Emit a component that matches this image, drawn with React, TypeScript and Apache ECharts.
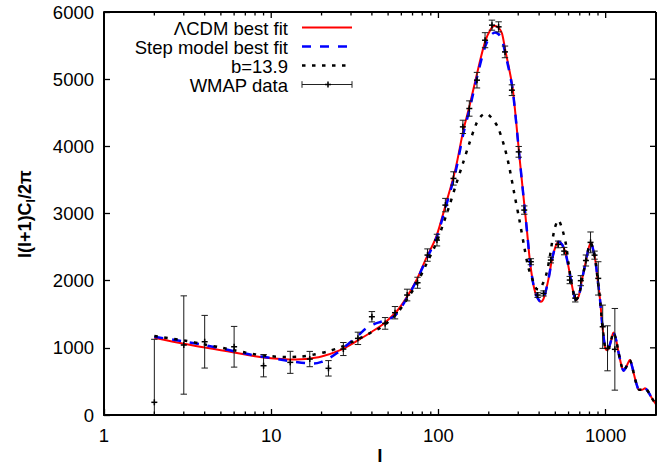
import React, { useEffect, useRef } from "react";
import * as echarts from "echarts";

// ---- axis settings ----
const X_MIN = 1;
const X_MAX = 2000;
const Y_MIN = 0;
const Y_MAX = 6000;
const Y_STEP = 1000;
const xTickLabels = [1, 10, 100, 1000];
const xMajorTop = [10, 100, 1000];
const yMajorRight = [1000, 2000, 3000, 4000, 5000];
const minorTicks = [2, 3, 4, 5, 6, 7, 8, 9, 20, 30, 40, 50, 60, 70, 80, 90, 200, 300, 400, 500, 600, 700, 800, 900];

// ---- ΛCDM best fit ----
const lcdmL = [2, 3, 4, 5, 6, 7, 8, 10, 12, 14, 16, 20, 25, 30, 35, 40, 47, 56, 64, 74, 84, 97, 111, 126, 141, 153, 172, 190, 205, 218, 230, 240, 251, 265, 278, 292, 305, 322, 340, 354, 374, 392, 410, 425, 440, 458, 477, 500, 523, 548, 573, 598, 620, 642, 664, 692, 721, 763, 790, 815, 850, 873, 894, 915, 930, 957, 991, 1014, 1040, 1073, 1113, 1155, 1197, 1248, 1280, 1330, 1395, 1440, 1480, 1530, 1585, 1650, 1721, 1770, 1820, 1880, 1950, 2000];
const lcdmV = [1150, 1060, 1005, 965, 930, 900, 875, 845, 830, 826, 832, 870, 950, 1050, 1150, 1240, 1360, 1537, 1736, 2009, 2320, 2653, 3150, 3646, 4241, 4588, 5134, 5555, 5740, 5795, 5760, 5680, 5432, 5150, 4861, 4350, 3850, 3270, 2690, 2250, 1880, 1740, 1686, 1730, 1860, 2060, 2307, 2500, 2579, 2540, 2430, 2220, 2009, 1820, 1711, 1780, 2009, 2300, 2480, 2560, 2420, 2257, 2034, 1830, 1662, 1314, 1016, 967, 990, 1091, 1230, 1116, 918, 719, 660, 720, 818, 720, 595, 460, 375, 375, 397, 370, 323, 260, 198, 160];

// ---- Step model best fit ----
const stepL = [2, 3, 4, 5, 6, 7, 8, 10, 12, 14, 16, 18, 20, 22, 25, 28, 31, 34, 37, 41, 45, 50, 56, 64, 74, 84, 97, 111, 126, 141, 153, 172, 190, 205, 218, 230, 240, 251, 265, 278, 292, 305, 322, 340, 354, 374, 392, 410, 425, 440, 458, 477, 500, 523, 548, 573, 598, 620, 642, 664, 692, 721, 763, 790, 815, 850, 873, 894, 915, 930, 957, 991, 1014, 1040, 1073, 1113, 1155, 1197, 1248, 1280, 1330, 1395, 1440, 1480, 1530, 1585, 1650, 1721, 1770, 1820, 1880, 1950, 2000];
const stepV = [1165, 1095, 1040, 990, 950, 915, 885, 848, 815, 790, 772, 765, 790, 840, 930, 1030, 1120, 1210, 1290, 1350, 1385, 1420, 1500, 1720, 2000, 2300, 2630, 3110, 3600, 4190, 4540, 5080, 5480, 5650, 5695, 5665, 5590, 5380, 5120, 4840, 4340, 3850, 3270, 2690, 2250, 1880, 1740, 1686, 1730, 1860, 2060, 2307, 2500, 2579, 2540, 2430, 2220, 2009, 1820, 1711, 1780, 2009, 2300, 2480, 2560, 2420, 2257, 2034, 1830, 1662, 1314, 1016, 967, 990, 1091, 1230, 1116, 918, 719, 660, 720, 818, 720, 595, 460, 375, 375, 397, 370, 323, 260, 198, 160];

// ---- b = 13.9 ----
const b139L = [2, 3, 4, 5, 6, 7, 8, 10, 12, 15, 18, 22, 26, 30, 35, 39, 45, 56, 64, 74, 84, 97, 114, 128, 140, 153, 168, 180, 192, 205, 226, 248, 265, 284, 305, 326, 344, 366, 385, 400, 420, 440, 460, 493, 521, 552, 580, 600, 620, 642, 664, 692, 721, 763, 790, 815, 850, 873, 894, 915, 930, 957, 991, 1014, 1040, 1073, 1113, 1155, 1197, 1248, 1280, 1330, 1395, 1440, 1480, 1530, 1585, 1650, 1721, 1770, 1820, 1880, 1950, 2000];
const b139V = [1175, 1110, 1050, 1005, 965, 930, 905, 875, 862, 870, 900, 950, 1010, 1080, 1160, 1220, 1300, 1500, 1700, 1950, 2230, 2560, 3051, 3448, 3745, 4043, 4330, 4450, 4489, 4440, 4290, 3993, 3695, 3299, 2902, 2504, 2207, 2009, 1880, 1870, 1950, 2080, 2307, 2753, 2902, 2753, 2530, 2250, 2009, 1820, 1711, 1780, 2009, 2300, 2480, 2560, 2420, 2257, 2034, 1830, 1662, 1314, 1016, 967, 990, 1091, 1230, 1116, 918, 719, 660, 720, 818, 720, 595, 460, 375, 375, 397, 370, 323, 260, 198, 160];

// ---- WMAP data ----
const wmapL = [2, 3, 4, 6, 9, 13, 17, 22, 27, 33, 40, 48, 55, 65, 75, 86, 98, 110, 123, 140, 153, 170, 190, 209, 229, 250, 275, 302, 326, 357, 392, 425, 470, 520, 565, 610, 658, 710, 762, 812, 858, 903, 960, 1026, 1135];
const wmapV = [189, 1042, 1091, 1016, 734, 784, 833, 695, 982, 1141, 1463, 1364, 1523, 1786, 1969, 2381, 2604, 3125, 3522, 4290, 4563, 4985, 5580, 5804, 5779, 5406, 4836, 3918, 3051, 2282, 1786, 1810, 2307, 2540, 2440, 2009, 1740, 2000, 2300, 2570, 2380, 2034, 1314, 993, 978];
const wmapErr = [938, 732, 392, 303, 166, 164, 114, 115, 97, 92, 77, 87, 92, 87, 82, 92, 87, 100, 99, 99, 114, 116, 112, 75, 75, 87, 80, 80, 62, 45, 35, 38, 43, 50, 55, 54, 57, 75, 82, 155, 60, 248, 322, 335, 608];

const legendNames = ["ΛCDM best fit", "Step model best fit", "b=13.9", "WMAP data"];

const FONT = '"Liberation Sans", Arial, Helvetica, sans-serif';
const FS = 18.5;

const GRID_LEFT = 104;
const GRID_TOP = 12;
const GRID_RIGHT = 9;
const GRID_BOTTOM = 53;

export default function App() {
  const ref = useRef<HTMLDivElement>(null);

  useEffect(() => {
    const chart = echarts.init(ref.current as HTMLDivElement, null, { renderer: "svg" });
    const pairs = (L: number[], V: number[]) => L.map((l, i) => [l, V[i]]);

    const labelBase = { color: "#000", fontSize: FS, fontFamily: FONT };
    const tickStyle = { stroke: "#000", lineWidth: 1.3 };
    const plotW = 665 - GRID_LEFT - GRID_RIGHT;
    const plotH = 468 - GRID_TOP - GRID_BOTTOM;

    const legX = 288;
    const legRows = [28, 47, 66, 85];
    const sx1 = 302;
    const sx2 = 352;

    const frameStyle = { stroke: "#000000", lineWidth: 2 };
    const graphic: any[] = [
      // plot frame: top and right edges
      { type: "line", z: 100, silent: true, shape: { x1: GRID_LEFT, y1: GRID_TOP, x2: GRID_LEFT + plotW, y2: GRID_TOP }, style: frameStyle },
      { type: "line", z: 100, silent: true, shape: { x1: GRID_LEFT + plotW, y1: GRID_TOP, x2: GRID_LEFT + plotW, y2: GRID_TOP + plotH }, style: frameStyle },
    ];
    legendNames.forEach((name, i) => {
      graphic.push({
        type: "text",
        x: legX,
        y: legRows[i],
        style: {
          text: name,
          fill: "#000",
          fontSize: FS,
          fontFamily: FONT,
          align: "right",
          textAlign: "right",
          verticalAlign: "middle",
          textVerticalAlign: "middle",
        },
      });
    });
    graphic.push({ type: "line", shape: { x1: sx1, y1: legRows[0] - 0.5, x2: sx2, y2: legRows[0] - 0.5 }, style: { stroke: "#ff0000", lineWidth: 2 } });
    graphic.push({ type: "line", shape: { x1: sx1, y1: legRows[1] - 0.5, x2: sx2, y2: legRows[1] - 0.5 }, style: { stroke: "#0000ff", lineWidth: 2.5, lineDash: [9, 9] } });
    graphic.push({ type: "line", shape: { x1: sx1, y1: legRows[2] - 0.5, x2: sx2, y2: legRows[2] - 0.5 }, style: { stroke: "#000", lineWidth: 2.5, lineDash: [3.5, 6.5] } });
    const wy = legRows[3] - 0.5;
    const wst = { stroke: "#222", lineWidth: 1 };
    graphic.push({ type: "line", shape: { x1: sx1, y1: wy, x2: sx2, y2: wy }, style: wst });
    graphic.push({ type: "line", shape: { x1: sx1, y1: wy - 3.3, x2: sx1, y2: wy + 3.3 }, style: wst });
    graphic.push({ type: "line", shape: { x1: sx2, y1: wy - 3.3, x2: sx2, y2: wy + 3.3 }, style: wst });
    graphic.push({ type: "line", shape: { x1: 328, y1: wy - 3, x2: 328, y2: wy + 3 }, style: { stroke: "#000", lineWidth: 1.5 } });
    graphic.push({ type: "line", shape: { x1: 325, y1: wy, x2: 331, y2: wy }, style: { stroke: "#000", lineWidth: 1.5 } });

    // axis titles
    graphic.push({
      type: "text",
      x: 380,
      y: 455,
      style: {
        text: "l",
        fill: "#000",
        fontSize: 19,
        fontWeight: "bold",
        fontFamily: FONT,
        align: "center",
        textAlign: "center",
        verticalAlign: "middle",
        textVerticalAlign: "middle",
      },
    });
    graphic.push({
      type: "text",
      x: 25,
      y: 214,
      rotation: Math.PI / 2,
      style: {
        text: "{a|l(l+1)C}{s|l}{a|/2π}",
        fill: "#000",
        align: "center",
        textAlign: "center",
        verticalAlign: "middle",
        textVerticalAlign: "middle",
        rich: {
          a: { fontSize: 18, fontWeight: "bold", fontFamily: FONT, fill: "#000", color: "#000", lineHeight: 24, verticalAlign: "middle" },
          s: { fontSize: 12.5, fontWeight: "bold", fontFamily: FONT, fill: "#000", color: "#000", lineHeight: 24, verticalAlign: "bottom", padding: [6, 0, 0, 0] },
        },
      },
    });

    const option: any = {
      animation: false,
      backgroundColor: "#ffffff",
      grid: {
        left: GRID_LEFT,
        right: GRID_RIGHT,
        top: GRID_TOP,
        bottom: GRID_BOTTOM,
        containLabel: false,
      },
      xAxis: {
        type: "log",
        logBase: 10,
        min: X_MIN,
        max: X_MAX,
        axisLine: { show: true, onZero: false, lineStyle: { color: "#000", width: 2 } },
        axisTick: { show: true, inside: true, length: 6, lineStyle: { color: "#000", width: 1.3 } },
        splitLine: { show: false },
        axisLabel: {
          ...labelBase,
          margin: 11,
          showMaxLabel: false,
          formatter: (v: number) => {
            const r = Math.round(v);
            return xTickLabels.indexOf(r) >= 0 ? String(r) : "";
          },
        },
      },
      yAxis: {
        type: "value",
        min: Y_MIN,
        max: Y_MAX,
        interval: Y_STEP,
        axisLine: { show: true, onZero: false, lineStyle: { color: "#000", width: 2 } },
        axisTick: { show: true, inside: true, length: 6, lineStyle: { color: "#000", width: 1.3 } },
        splitLine: { show: false },
        axisLabel: { ...labelBase, margin: 10, formatter: (v: number) => String(v) },
      },
      graphic: { elements: graphic },
      series: [
        {
          type: "line",
          name: legendNames[0],
          data: pairs(lcdmL, lcdmV),
          symbol: "none",
          showSymbol: false,
          smooth: 0.3,
          clip: true,
          lineStyle: { color: "#ff0000", width: 2 },
          z: 2,
        },
        {
          type: "line",
          name: legendNames[1],
          data: pairs(stepL, stepV),
          symbol: "none",
          showSymbol: false,
          smooth: 0.3,
          clip: true,
          lineStyle: { color: "#0000ff", width: 2.5, type: [9, 9] },
          z: 3,
        },
        {
          type: "line",
          name: legendNames[2],
          data: pairs(b139L, b139V),
          symbol: "none",
          showSymbol: false,
          smooth: 0.3,
          clip: true,
          lineStyle: { color: "#000000", width: 2.5, type: [3.5, 6.5] },
          z: 4,
        },
        {
          type: "custom",
          name: legendNames[3],
          data: wmapL.map((l, i) => [l, wmapV[i], wmapErr[i]]),
          encode: { x: 0, y: 1 },
          clip: true,
          silent: true,
          z: 5,
          renderItem: (_p: any, api: any) => {
            const l = api.value(0);
            const v = api.value(1);
            const e = api.value(2);
            const c = api.coord([l, v]);
            const t = api.coord([l, v + e]);
            const b = api.coord([l, v - e]);
            const st = { stroke: "#1a1a1a", lineWidth: 1 };
            const pst = { stroke: "#000", lineWidth: 1.5 };
            const cap = 3.2;
            const pl = 3;
            return {
              type: "group",
              children: [
                { type: "line", shape: { x1: c[0], y1: t[1], x2: c[0], y2: b[1] }, style: st },
                { type: "line", shape: { x1: c[0] - cap, y1: t[1], x2: c[0] + cap, y2: t[1] }, style: st },
                { type: "line", shape: { x1: c[0] - cap, y1: b[1], x2: c[0] + cap, y2: b[1] }, style: st },
                { type: "line", shape: { x1: c[0] - pl, y1: c[1], x2: c[0] + pl, y2: c[1] }, style: pst },
                { type: "line", shape: { x1: c[0], y1: c[1] - pl, x2: c[0], y2: c[1] + pl }, style: pst },
              ],
            };
          },
        },
        {
          // minor x ticks (bottom and top) and mirrored major x ticks on top
          type: "custom",
          name: "x ticks",
          data: [
            ...minorTicks.map((v) => [v, 3000, 3.5, 1]),
            ...xMajorTop.map((v) => [v, 3000, 6, 0]),
          ],
          encode: { x: 0, y: 1 },
          silent: true,
          z: 6,
          renderItem: (_p: any, api: any) => {
            const l = api.value(0);
            const len = api.value(2);
            const both = api.value(3);
            const b = api.coord([l, Y_MIN]);
            const t = api.coord([l, Y_MAX]);
            const children: any[] = [
              { type: "line", shape: { x1: t[0], y1: t[1] + 0.5, x2: t[0], y2: t[1] + len }, style: tickStyle },
            ];
            if (both) {
              children.push({ type: "line", shape: { x1: b[0], y1: b[1] - 0.5, x2: b[0], y2: b[1] - len }, style: tickStyle });
            }
            return { type: "group", children };
          },
        },
        {
          // mirrored major y ticks on the right
          type: "custom",
          name: "y ticks",
          data: yMajorRight.map((v) => [1000, v]),
          encode: { x: 0, y: 1 },
          silent: true,
          z: 6,
          renderItem: (_p: any, api: any) => {
            const p = api.coord([X_MAX, api.value(1)]);
            return { type: "line", shape: { x1: p[0] - 0.5, y1: p[1], x2: p[0] - 6, y2: p[1] }, style: tickStyle };
          },
        },
      ],
    };

    chart.setOption(option);
    return () => {
      chart.dispose();
    };
  }, []);

  return (
    <div
      ref={ref}
      style={{ position: "fixed", left: 0, top: 0, width: 665, height: 468, background: "#fff" }}
    />
  );
}
